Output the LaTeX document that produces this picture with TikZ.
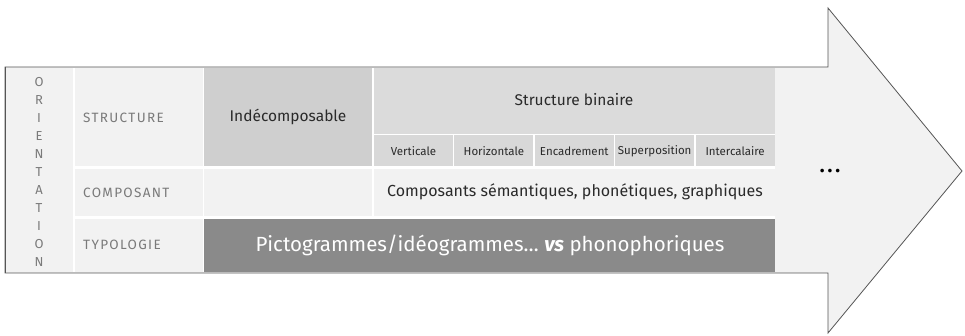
\documentclass[tikz,border=0pt]{standalone}
\usepackage{fontspec}
\setmainfont{Fira Sans}
\definecolor{arrowfill}{HTML}{F2F2F2}
\definecolor{lblfill}{HTML}{F2F2F2}
\definecolor{indecfill}{HTML}{CFCFCF}
\definecolor{binfill}{HTML}{DBDBDB}
\definecolor{subfill}{HTML}{D8D8D8}
\definecolor{typofill}{HTML}{8A8A8A}
\definecolor{lbltext}{HTML}{7A7A7A}
\definecolor{celltext}{HTML}{2A2A2A}
\definecolor{outline}{HTML}{555555}
\begin{document}
\begin{tikzpicture}[x=1pt,y=-1pt,
  cell/.style={anchor=north west,inner sep=0pt,outer sep=0pt,draw=none},
  lbl/.style={cell,fill=lblfill},
  lbltxt/.style={anchor=west,inner sep=0pt,text=lbltext,font=\fontsize{13.5}{15}\selectfont\addfontfeatures{LetterSpace=10}},
  subtxt/.style={text=celltext,font=\fontsize{11.5}{13}\selectfont}]
\useasboundingbox (0,0) rectangle (965,336);
% arrow
\draw[fill=arrowfill,draw=outline,line width=0.8pt]
  (5,67) -- (828,67) -- (828,8) -- (962,171) -- (828,333) -- (828,273) -- (5,273) -- cycle;
\fill[white] (6,68) rectangle (775,272);
\draw[outline,line width=1.4pt] (5.5,67) -- (5.5,273);
% orientation column
\node[cell,fill=lblfill,minimum width=67,minimum height=204] (orient) at (6,68) {};
\foreach \l [count=\i from 0] in {O,R,I,E,N,T,A,T,I,O,N}
  \node[text=lbltext,font=\fontsize{13}{14}\selectfont,inner sep=0pt] (o\i) at (39,82+18*\i) {\l};
% label column
\node[lbl,minimum width=128,minimum height=98] (lblS) at (75,68) {};
\node[lbl,minimum width=128,minimum height=47] (lblC) at (75,169) {};
\node[lbl,minimum width=128,minimum height=53] (lblT) at (75,219) {};
\node[lbltxt] (tS) at (83,118) {STRUCTURE};
\node[lbltxt] (tC) at (83,193) {COMPOSANT};
\node[lbltxt] (tT) at (83,245) {TYPOLOGIE};
% structure row
\node[cell,fill=indecfill,minimum width=168,minimum height=98] (indec) at (204,68) {};
\node[text=celltext,font=\fontsize{15.5}{17}\selectfont] (indecT) at (288,117) {Indécomposable};
\node[cell,fill=binfill,minimum width=401,minimum height=66] (sbin) at (374,68) {};
\node[text=celltext,font=\fontsize{15.5}{17}\selectfont] (sbinT) at (574,100) {Structure binaire};
\foreach \t [count=\i from 0] in {Verticale,Horizontale,Encadrement,Superposition,Intercalaire}{
  \node[cell,fill=subfill,minimum width=79,minimum height=31] (sub\i) at (374+80.4*\i,135) {};
  \node[subtxt,inner sep=0pt] (subT\i) at (374+80.4*\i+39.5,151) {\t};
}
% composant row
\node[cell,fill=lblfill,minimum width=168,minimum height=47] (compL) at (204,169) {};
\node[cell,fill=lblfill,minimum width=401,minimum height=47] (compR) at (374,169) {};
\node[text=celltext,font=\fontsize{16}{18}\selectfont] (compT) at (575,192) {Composants sémantiques, phonétiques, graphiques};
% typologie row
\node[cell,fill=typofill,minimum width=571,minimum height=53] (typo) at (204,219) {};
\node[text=white,font=\fontsize{20.5}{23}\selectfont] (typoT) at (490,245) {Pictogrammes/idéogrammes… \textbf{\textit{vs}} phonophoriques};
% dots
\node[text=black,inner sep=0pt,font=\fontsize{20}{20}\selectfont\bfseries] (dots) at (830,171) {.\hspace{3pt}.\hspace{3pt}.};
\end{tikzpicture}
\end{document}
